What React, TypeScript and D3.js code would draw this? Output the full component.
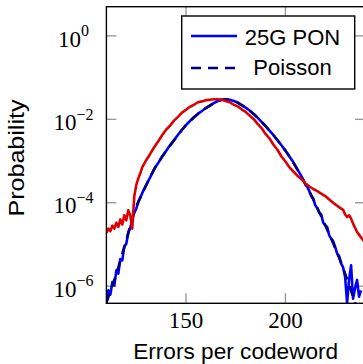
import React from "react";
import * as d3 from "d3";

// errors per codeword (x) and log10 probability (y)
const ponErrors = [
  110, 111, 112, 113, 114, 115, 116, 117, 118, 119, 120, 121, 122, 123, 124, 125, 126, 127, 128,
  130, 132, 134, 136, 138, 140, 142, 144, 146, 148, 150, 152, 154, 156, 158, 160, 162, 164, 166, 168,
  170, 172, 174, 176, 178, 180, 182, 184, 186, 188, 190, 192, 194, 196, 198, 200, 202, 204, 206, 208,
  209, 210, 211, 212, 213, 214, 215, 216, 217, 218, 219, 220, 221, 222, 223, 224, 225, 226, 227, 228,
  229, 230, 231, 232, 233, 234, 235, 236, 237, 238,
];
const ponLog10 = [
  -6.4, -6.1, -6.2, -5.9, -5.98, -5.62, -5.7, -5.35, -5.38, -5.05, -4.98, -4.72, -4.6, -4.4, -4.24, -4.14, -3.99, -3.88, -3.77,
  -3.57, -3.39, -3.19, -3.05, -2.89, -2.76, -2.62, -2.5, -2.37, -2.25, -2.14, -2.04, -1.95, -1.87, -1.8, -1.73, -1.67, -1.61, -1.56, -1.53,
  -1.52, -1.53, -1.56, -1.6, -1.66, -1.72, -1.79, -1.87, -1.96, -2.06, -2.16, -2.27, -2.38, -2.5, -2.62, -2.75, -2.89, -3.03, -3.2, -3.36,
  -3.45, -3.56, -3.62, -3.72, -3.84, -3.9, -4.06, -4.13, -4.24, -4.28, -4.48, -4.54, -4.58, -4.78, -4.86, -4.92, -5.06, -5.22, -5.28, -5.46,
  -5.55, -5.78, -6.4, -5.85, -5.5, -6.3, -6.05, -5.85, -6.25, -6.1,
];

const poissonErrors = [
  110, 112, 114, 116, 118, 120, 122, 124, 126, 128, 130, 132, 134, 136, 138, 140, 142, 144, 146, 148,
  150, 152, 154, 156, 158, 160, 162, 164, 166, 168, 170, 172, 174, 176, 178, 180, 182, 184, 186, 188,
  190, 192, 194, 196, 198, 200, 202, 204, 206, 208, 210, 212, 214, 216, 218, 220, 222, 224, 226, 228,
  230, 232, 234, 236,
];
const poissonLog10 = [
  -6.4, -6.12, -5.85, -5.55, -5.22, -4.9, -4.55, -4.22, -3.98, -3.78, -3.58, -3.38, -3.2, -3.04, -2.9, -2.76, -2.63, -2.5, -2.37, -2.25,
  -2.14, -2.04, -1.95, -1.87, -1.8, -1.73, -1.67, -1.61, -1.56, -1.53, -1.52, -1.53, -1.56, -1.6, -1.66, -1.72, -1.79, -1.87, -1.96, -2.06,
  -2.16, -2.27, -2.38, -2.5, -2.62, -2.75, -2.89, -3.04, -3.2, -3.37, -3.55, -3.73, -3.92, -4.12, -4.33, -4.54, -4.75, -4.97, -5.2, -5.44,
  -5.7, -5.97, -6.25, -6.55,
];

const otherErrors = [
  110, 111, 112, 113, 114, 115, 116, 117, 118, 119, 120, 121, 122, 123, 124, 125, 126, 127, 128,
  130, 132, 134, 136, 138, 140, 142, 144, 146, 148, 150, 152, 154, 156, 158, 160, 162, 164, 166, 168,
  170, 172, 174, 176, 178, 180, 182, 184, 186, 188, 190, 192, 194, 196, 198, 200, 202, 204, 206, 208,
  210, 212, 214, 216, 218, 220, 222, 224, 226, 228, 229, 230, 231, 232, 233, 234, 236, 238, 240,
];
const otherLog10 = [
  -4.72, -4.62, -4.68, -4.55, -4.62, -4.48, -4.58, -4.4, -4.52, -4.3, -4.42, -4.18, -4.3, -4.62, -3.85, -3.58, -3.42, -3.3, -3.15,
  -2.98, -2.83, -2.67, -2.53, -2.38, -2.25, -2.15, -2.03, -1.94, -1.84, -1.77, -1.7, -1.65, -1.59, -1.57, -1.54, -1.53, -1.52, -1.52, -1.53,
  -1.56, -1.59, -1.65, -1.69, -1.76, -1.82, -1.91, -1.99, -2.11, -2.21, -2.35, -2.46, -2.61, -2.73, -2.89, -3.01, -3.15, -3.25, -3.35, -3.43,
  -3.53, -3.61, -3.67, -3.72, -3.78, -3.84, -3.92, -4.0, -4.07, -4.14, -4.17, -4.28, -4.34, -4.3, -4.38, -4.5, -4.7, -4.83, -4.95,
];

const xTicks = [150, 200];
const yTickExps = [0, -2, -4, -6];
const legendLabels = ["25G PON", "Poisson"];

const plot = { left: 106.4, right: 365, top: 6.7, bottom: 303.3 };
const serif = "'Liberation Serif', 'Times New Roman', serif";
const sans = "'Liberation Sans', Arial, sans-serif";

export default function App() {
  const x = d3.scaleLinear().domain([110, 240]).range([plot.left, plot.right]);
  const y = d3
    .scaleLog()
    .domain([Math.pow(10, -6.41), Math.pow(10, 0.7)])
    .range([plot.bottom, plot.top]);

  const makePath = (ks: number[], logs: number[]) =>
    d3
      .line<number>()
      .x((_, i) => x(ks[i]))
      .y((v) => y(Math.pow(10, v)))(logs) || "";

  const tickLen = 10;

  return (
    <svg
      width={363}
      height={364}
      style={{ position: "absolute", left: 0, top: 0, background: "#fff" }}
    >
      <defs>
        <clipPath id="plot-clip">
          <rect
            x={plot.left}
            y={plot.top}
            width={plot.right - plot.left}
            height={plot.bottom - plot.top}
          />
        </clipPath>
      </defs>

      {/* ticks */}
      {xTicks.map((t) => (
        <g key={"xt" + t} stroke="#999" strokeWidth={1.4}>
          <line x1={x(t)} x2={x(t)} y1={plot.bottom} y2={plot.bottom - tickLen} />
          <line x1={x(t)} x2={x(t)} y1={plot.top} y2={plot.top + tickLen} />
        </g>
      ))}
      {yTickExps.map((e) => (
        <g key={"yt" + e} stroke="#999" strokeWidth={1.4}>
          <line x1={plot.left} x2={plot.left + tickLen} y1={y(Math.pow(10, e))} y2={y(Math.pow(10, e))} />
          <line x1={plot.right} x2={plot.right - tickLen} y1={y(Math.pow(10, e))} y2={y(Math.pow(10, e))} />
        </g>
      ))}

      {/* curves */}
      <g clipPath="url(#plot-clip)" fill="none" strokeLinejoin="round">
        <path d={makePath(ponErrors, ponLog10)} stroke="#0000ff" strokeWidth={2.6} />
        <path
          d={makePath(poissonErrors, poissonLog10)}
          stroke="#00007a"
          strokeWidth={2.6}
          strokeDasharray="10 7"
        />
        <path d={makePath(otherErrors, otherLog10)} stroke="#dd0000" strokeWidth={2.6} />
      </g>

      {/* axis box */}
      <rect
        x={plot.left}
        y={plot.top}
        width={plot.right - plot.left}
        height={plot.bottom - plot.top}
        fill="none"
        stroke="#000"
        strokeWidth={1.4}
      />

      {/* tick labels */}
      {xTicks.map((t) => (
        <text
          key={"xl" + t}
          x={x(t)}
          y={328.3}
          textAnchor="middle"
          fontFamily={serif}
          fontSize={23}
          fill="#000"
        >
          {t}
        </text>
      ))}
      {yTickExps.map((e) => (
        <text
          key={"yl" + e}
          x={73.5}
          y={y(Math.pow(10, e)) + 10.7}
          textAnchor="middle"
          fontFamily={serif}
          fontSize={23}
          fill="#000"
        >
          10
          <tspan dy={-10.5} fontSize={16}>
            {e < 0 ? "\u2212" + Math.abs(e) : e}
          </tspan>
        </text>
      ))}

      {/* axis labels */}
      <text
        x={(plot.left + plot.right) / 2}
        y={359}
        textAnchor="middle"
        fontFamily={sans}
        fontSize={22}
        textLength={205}
        lengthAdjust="spacingAndGlyphs"
        fill="#000"
      >
        Errors per codeword
      </text>
      <text
        transform={`translate(24,${(plot.top + plot.bottom) / 2 + 3}) rotate(-90)`}
        textAnchor="middle"
        fontFamily={sans}
        fontSize={22}
        textLength={117}
        lengthAdjust="spacingAndGlyphs"
        fill="#000"
      >
        Probability
      </text>

      {/* legend */}
      <g>
        <rect x={181.7} y={16} width={173} height={73} fill="#fff" stroke="#000" strokeWidth={1.4} />
        <line x1={191} x2={237} y1={36} y2={36} stroke="#0000ff" strokeWidth={2.6} />
        <line
          x1={191}
          x2={237}
          y1={68}
          y2={68}
          stroke="#00007a"
          strokeWidth={2.6}
          strokeDasharray="10 7"
        />
        {legendLabels.map((l, i) => (
          <text
            key={l}
            x={292.5}
            y={45 + i * 30}
            textAnchor="middle"
            fontFamily={sans}
            fontSize={22}
            fill="#000"
          >
            {l}
          </text>
        ))}
      </g>
    </svg>
  );
}
